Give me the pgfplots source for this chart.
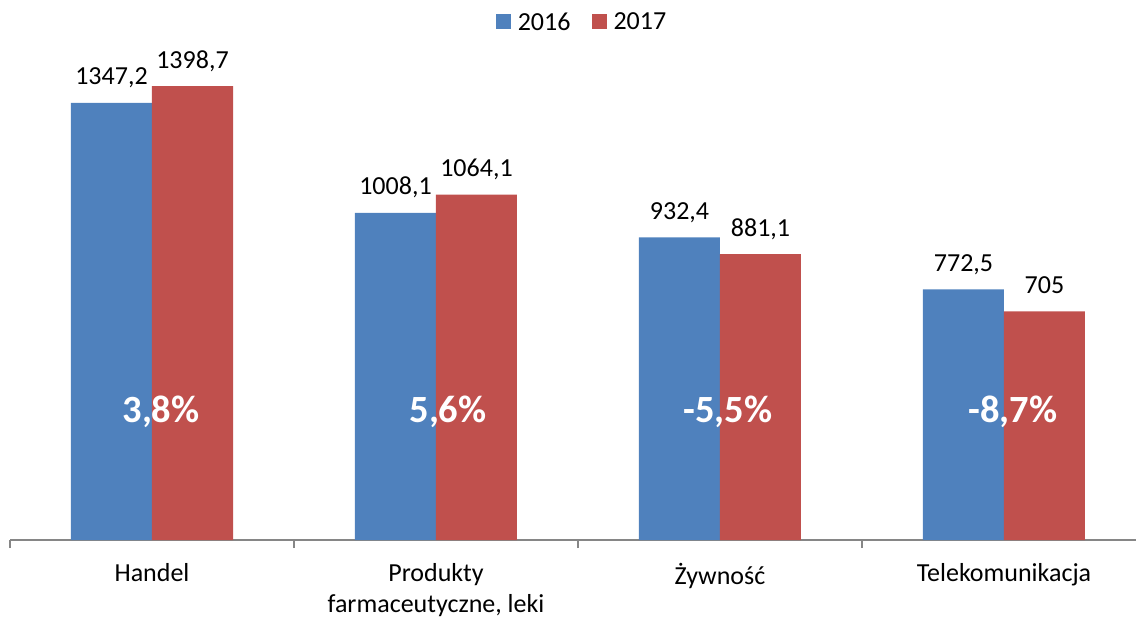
\documentclass[border=0pt]{standalone}
\usepackage{pgfplots}
\pgfplotsset{compat=1.18}
\usepackage{fontspec}
\setmainfont{Carlito}
\definecolor{cblue}{HTML}{4F81BD}
\definecolor{cred}{HTML}{C0504D}
\definecolor{axgray}{HTML}{868686}
\begin{document}
\begin{tikzpicture}[x=1pt,y=1pt]
\begin{axis}[
  at={(10pt,79pt)}, anchor=south west,
  scale only axis, width=1126pt, height=500pt,
  xmin=-0.5, xmax=3.4648, ymin=0, ymax=1541,
  ybar=0pt, bar width=81pt,
  axis y line=none, axis x line*=bottom,
  x axis line style={draw=axgray, line width=1.3pt},
  xtick={0,1,2,3},
  xticklabels={Handel, {Produkty\\farmaceutyczne, leki}, Żywność, Telekomunikacja},
  xticklabel style={align=center, font=\fontsize{26}{31}\selectfont, yshift=-20pt},
  major tick length=0pt,
  minor xtick={-0.5,0.5,1.5,2.5},
  minor tick length=8pt, tick align=outside,
  minor x tick style={draw=axgray, line width=1.3pt},
  major x tick style={draw=none},
  nodes near coords,
  every node near coord/.append style={font=\fontsize{26}{31}\selectfont, text=black, anchor=base, yshift=18pt},
  /pgf/number format/use comma,
  /pgf/number format/1000 sep={},
  /pgf/number format/assume math mode=true,
  legend columns=2,
  legend style={draw=none, fill=none, at={(axis description cs:0.508,1.036)}, anchor=center,
    font=\fontsize{26}{31}\selectfont,
    /tikz/every odd column/.append style={column sep=5pt},
    /tikz/every even column/.append style={column sep=19pt}},
  legend image code/.code={\fill[#1] (0pt,-7.5pt) rectangle (15pt,7.5pt);},
  clip=false,
]
\addplot[fill=cblue, draw=none] coordinates {(0,1347.2) (1,1008.1) (2,932.4) (3,772.5)};
\addplot[fill=cred, draw=none] coordinates {(0,1398.7) (1,1064.1) (2,881.1) (3,705)};
\legend{2016,2017}
\node[text=white, font=\bfseries\fontsize{38.5}{40}\selectfont, anchor=base, xshift=9pt] at (axis cs:0,361) {3,8\%};
\node[text=white, font=\bfseries\fontsize{38.5}{40}\selectfont, anchor=base, xshift=12pt] at (axis cs:1,361) {5,6\%};
\node[text=white, font=\bfseries\fontsize{38.5}{40}\selectfont, anchor=base, xshift=8pt] at (axis cs:2,361) {-5,5\%};
\node[text=white, font=\bfseries\fontsize{38.5}{40}\selectfont, anchor=base, xshift=9pt] at (axis cs:3,361) {-8,7\%};
\end{axis}
\pgfresetboundingbox
\path (0,0) rectangle (1136,619);
\end{tikzpicture}
\end{document}
